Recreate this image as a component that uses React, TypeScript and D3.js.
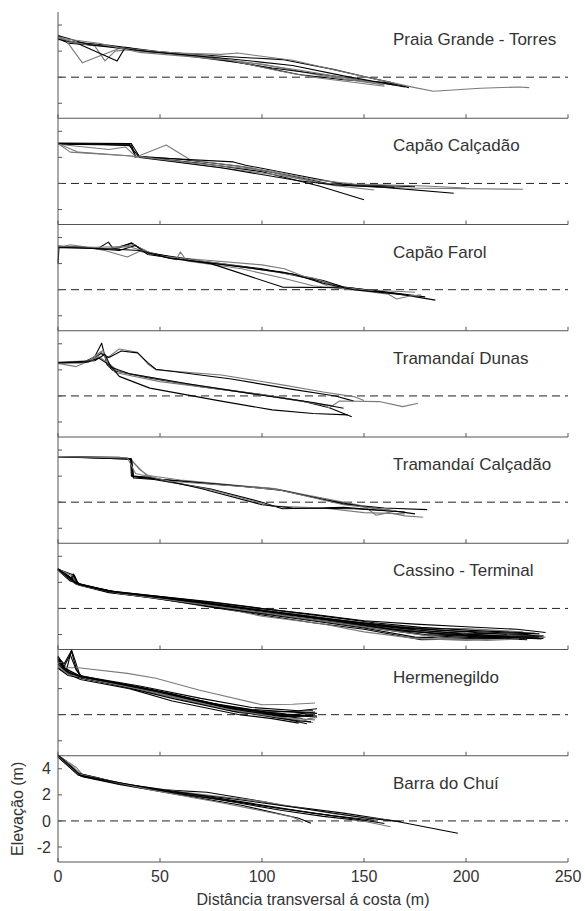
import React from "react";
import * as d3 from "d3";

type Pt = [number, number];

const panelNames = [
  "Praia Grande - Torres",
  "Capão Calçadão",
  "Capão Farol",
  "Tramandaí Dunas",
  "Tramandaí Calçadão",
  "Cassino - Terminal",
  "Hermenegildo",
  "Barra do Chuí",
];

const xTicks = [0, 50, 100, 150, 200, 250];
const yTicks = [-2, 0, 2, 4];
const xLabel = "Distância transversal á costa (m)";
const yLabel = "Elevação (m)";

const praiaGrande: Pt[][] = [
  [[0, 3.0], [3, 2.75], [25, 2.45], [50, 1.95], [80, 1.6], [110, 1.35], [135, 0.6], [150, 0.05], [163, -0.4], [172, -0.8]],
  [[0, 3.1], [5, 2.6], [30, 2.3], [55, 1.8], [90, 1.1], [118, 0.2], [140, -0.2], [160, -0.4], [168, -0.6]],
  [[0, 3.2], [4, 2.8], [12, 1.1], [20, 1.6], [30, 2.2], [45, 1.9], [80, 1.75], [88, 1.85], [115, 1.3], [140, 0.4], [160, -0.3], [175, -0.8], [184, -1.08], [207, -0.85], [226, -0.75], [231, -0.8]],
  [[0, 3.1], [6, 2.7], [18, 2.4], [23, 1.25], [28, 2.0], [35, 2.1], [60, 1.7], [100, 1.0], [130, 0.1], [160, -0.6]],
  [[0, 2.9], [8, 2.7], [29, 1.25], [33, 2.3], [42, 2.05], [70, 1.6], [105, 0.7], [140, 0.0], [165, -0.6]],
  [[0, 3.0], [10, 2.6], [40, 2.1], [75, 1.6], [108, 0.5], [125, 0.0], [160, -0.7]],
  [[0, 3.2], [15, 2.5], [45, 1.95], [85, 1.4], [115, 0.9], [140, 0.1], [170, -0.75]],
  [[0, 3.0], [20, 2.6], [40, 1.9], [85, 1.3], [118, 0.55], [135, 0.1], [160, -0.55]],
];
const praiaGrandeGray = [2, 3, 5, 7];

const capaoCalcadao: Pt[][] = [
  [[0, 3.05], [35, 3.0], [38, 2.1], [60, 1.85], [90, 1.3], [120, 0.4], [135, -0.1], [160, -0.3], [194, -0.75]],
  [[0, 3.1], [36, 3.05], [40, 2.05], [70, 1.55], [100, 0.9], [128, -0.2], [150, -1.25]],
  [[0, 3.05], [6, 2.4], [36, 2.1], [38, 2.0], [53, 2.95], [65, 1.8], [95, 1.2], [130, 0.0], [170, -0.35], [228, -0.45]],
  [[0, 3.0], [30, 2.95], [36, 2.95], [38, 2.05], [86, 1.65], [92, 1.4], [115, 0.7], [140, -0.05], [175, -0.25]],
  [[0, 3.0], [25, 2.6], [33, 2.8], [38, 2.1], [75, 1.3], [110, 0.6], [135, -0.15], [155, -0.5]],
  [[0, 3.05], [20, 3.0], [35, 2.9], [40, 2.0], [80, 1.2], [118, 0.2], [135, -0.1], [165, -0.3]],
  [[0, 3.05], [10, 2.4], [36, 2.1], [70, 1.5], [105, 0.95], [125, 0.3], [145, -0.05], [180, -0.2], [200, -0.35]],
];
const capaoCalcadaoGray = [2, 4, 6];

const capaoFarol: Pt[][] = [
  [[0, 3.3], [10, 3.25], [23, 3.1], [30, 3.2], [36, 3.6], [42, 2.95], [60, 2.35], [85, 1.85], [110, 1.35], [130, 0.7], [140, 0.2], [165, -0.25], [180, -0.55]],
  [[0, 3.2], [6, 3.45], [12, 3.3], [23, 3.0], [34, 2.5], [40, 2.95], [49, 2.6], [70, 2.3], [100, 1.9], [111, 1.6], [132, 0.3], [150, 0.0], [175, -0.2]],
  [[0, 3.35], [20, 3.2], [24.7, 3.65], [27, 3.15], [36, 3.55], [45, 2.8], [70, 2.2], [100, 1.6], [125, 0.8], [140, 0.2], [166, -0.3], [185, -0.8]],
  [[0, 3.2], [25, 3.15], [37, 3.45], [47, 2.7], [58, 2.3], [60, 2.9], [63, 2.2], [90, 1.6], [110, 0.9], [125, 0.3], [150, -0.1], [162, -0.35], [166, -0.72], [172, -0.5], [178, -0.4]],
  [[0, 2.0], [0.5, 3.3], [15, 3.2], [30, 3.0], [38, 3.4], [44, 2.7], [75, 2.0], [110, 0.2], [140, 0.15], [160, -0.2]],
  [[0, 3.3], [18, 3.25], [35, 3.3], [50, 2.6], [80, 2.0], [105, 1.4], [125, 0.9], [138, 0.2], [155, -0.1]],
  [[0, 3.25], [28, 3.1], [40, 3.0], [55, 2.4], [90, 1.75], [115, 1.2], [130, 0.5], [145, 0.0], [170, -0.4]],
];
const capaoFarolGray = [1, 3, 5];

const tramandaiDunas: Pt[][] = [
  [[0, 2.55], [12, 2.55], [18, 3.0], [21.4, 4.05], [24, 2.4], [27, 1.95], [44, 1.4], [70, 0.7], [100, 0.1], [120, -0.4], [133, -0.9], [144, -1.6]],
  [[0, 2.5], [9, 2.25], [14, 2.6], [21, 3.4], [24, 2.9], [30, 3.6], [39, 3.35], [44, 2.45], [48, 2.0], [80, 1.6], [110, 0.85], [130, 0.3], [145, -0.05], [150, -0.35]],
  [[0, 2.55], [15, 2.6], [21, 3.25], [25, 2.95], [31, 3.45], [39, 3.3], [44, 2.55], [48, 2.05], [85, 1.3], [115, 0.5], [136, 0.0], [145, -0.4]],
  [[0, 2.5], [12, 2.55], [20, 3.0], [25, 2.5], [28, 1.8], [50, 1.1], [80, 0.5], [105, 0.0], [130, -0.7], [133, -0.9], [138, -0.39], [158, -0.44], [169, -0.82], [176.5, -0.56]],
  [[0, 2.55], [14, 2.6], [20, 2.9], [26, 2.3], [30, 1.5], [45, 0.6], [80, -0.4], [105, -1.07], [125, -1.35], [142, -1.45]],
  [[0, 2.6], [16, 2.7], [22, 3.5], [24, 2.6], [30, 1.85], [60, 1.0], [95, 0.2], [115, -0.3], [135, -0.75]],
  [[0, 2.55], [18, 2.7], [23, 3.2], [26, 2.2], [35, 1.7], [65, 0.9], [100, 0.05], [125, -0.5], [140, -0.95]],
];
const tramandaiDunasGray = [1, 3, 5];

const tramandaiCalcadao: Pt[][] = [
  [[0, 3.5], [30, 3.45], [35.7, 3.3], [36.5, 1.95], [47, 1.8], [80, 1.35], [106, 1.03], [125, 0.4], [140, -0.15], [160, -0.45], [181, -0.57]],
  [[0, 3.48], [35, 3.35], [43.4, 2.06], [60, 1.7], [90, 1.25], [106, 1.05], [120, 0.6], [150, -0.3], [156, -1.0], [162, -0.8], [170, -1.05], [179, -1.16]],
  [[0, 3.5], [36, 3.3], [37, 1.85], [47, 1.75], [75, 1.0], [100, 0.0], [110, -0.5], [140, -0.4], [165, -0.7]],
  [[0, 3.45], [35.5, 3.35], [40, 2.5], [46, 1.85], [75, 0.95], [105, -0.3], [130, -0.45], [150, -0.8], [170, -0.9]],
  [[0, 3.48], [36, 3.3], [37, 2.0], [50, 1.75], [85, 1.3], [110, 0.9], [130, 0.2], [150, -0.35], [175, -0.9]],
  [[0, 3.5], [35.5, 3.35], [36, 2.0], [46, 1.9], [70, 1.05], [100, -0.2], [115, -0.45], [145, -0.5], [170, -0.75]],
  [[0, 3.5], [34, 3.4], [38, 2.2], [55, 1.6], [90, 1.2], [108, 0.95], [140, -0.2], [165, -0.65]],
];
const tramandaiCalcadaoGray = [1, 3, 6];

const cassino: Pt[][] = [
  [[0, 3.05], [4, 2.5], [6, 2.2], [7.5, 2.65], [9, 1.9], [25, 1.35], [47, 0.97], [75, 0.5], [100, 0.0], [125, -0.45], [150, -0.95], [175, -1.2], [200, -1.4], [225, -1.6], [239, -1.85]],
  [[0, 3.0], [5, 2.3], [9, 1.85], [25, 1.25], [47, 0.85], [75, 0.25], [100, -0.3], [125, -0.75], [150, -1.3], [175, -1.7], [200, -1.9], [230, -2.0], [238, -2.2]],
  [[0, 2.95], [6, 2.1], [8, 2.5], [10, 1.8], [25, 1.2], [47, 0.8], [75, 0.1], [100, -0.5], [125, -1.1], [150, -1.6], [178, -2.4], [200, -2.35], [235, -2.25]],
  [[0, 3.0], [6, 2.2], [10, 1.85], [30, 1.2], [50, 0.75], [80, 0.05], [100, -0.6], [130, -1.2], [150, -1.8], [175, -2.3], [200, -2.45], [220, -2.3]],
  [[0, 3.05], [7, 2.3], [12, 1.75], [30, 1.15], [55, 0.7], [90, -0.1], [120, -0.75], [150, -1.4], [180, -2.0], [210, -2.2], [238, -2.3]],
  [[0, 3.0], [6, 2.2], [9, 1.9], [28, 1.25], [47, 0.9], [80, 0.2], [110, -0.35], [140, -1.0], [165, -1.45], [190, -1.7], [215, -1.85], [236, -1.95]],
  [[0, 3.0], [8, 2.0], [25, 1.3], [50, 0.85], [85, 0.2], [115, -0.4], [150, -1.1], [180, -1.55], [200, -1.55], [228, -1.8]],
  [[0, 3.0], [7, 2.6], [9, 1.95], [26, 1.3], [48, 0.9], [78, 0.3], [105, -0.25], [135, -0.85], [160, -1.3], [185, -1.9], [205, -2.1], [232, -2.1]],
  [[0, 3.05], [5, 2.4], [10, 1.85], [25, 1.3], [45, 0.95], [70, 0.5], [95, -0.05], [120, -0.55], [145, -1.05], [170, -1.45], [195, -1.75], [220, -2.0]],
  [[0, 2.95], [6, 2.15], [11, 1.8], [30, 1.15], [60, 0.5], [90, -0.2], [120, -0.85], [150, -1.5], [175, -2.2], [200, -2.3], [215, -2.2]],
  [[0, 3.0], [7, 2.5], [9, 1.9], [27, 1.25], [47, 0.85], [70, 0.35], [100, -0.35], [130, -0.9], [160, -1.45], [190, -1.9], [225, -2.1], [239, -2.2]],
  [[0, 3.0], [6, 2.25], [10, 1.9], [30, 1.2], [52, 0.75], [82, 0.0], [112, -0.6], [142, -1.2], [170, -1.75], [200, -2.05], [225, -2.25], [237, -2.35]],
  [[0, 3.0], [5, 2.35], [9, 1.9], [26, 1.28], [46, 0.92], [72, 0.42], [98, -0.15], [122, -0.65], [148, -1.2], [172, -1.6], [198, -1.95], [222, -2.15], [236, -2.2]],
  [[0, 3.05], [6, 2.25], [8, 2.55], [10, 1.85], [28, 1.2], [50, 0.8], [78, 0.15], [104, -0.45], [132, -1.05], [158, -1.6], [182, -2.1], [205, -2.25], [230, -2.4]],
  [[0, 2.95], [6, 2.2], [10, 1.8], [30, 1.15], [55, 0.65], [85, 0.0], [115, -0.65], [145, -1.3], [170, -1.85], [190, -2.3], [210, -2.45], [226, -2.35]],
  [[0, 3.0], [7, 2.1], [11, 1.8], [27, 1.3], [48, 0.95], [76, 0.45], [102, -0.05], [128, -0.55], [155, -1.1], [178, -1.45], [205, -1.7], [234, -1.9]],
  [[0, 3.0], [5, 2.5], [9, 1.9], [25, 1.3], [50, 0.85], [80, 0.25], [108, -0.35], [135, -0.95], [162, -1.55], [188, -2.0], [212, -2.15], [238, -2.1]],
];
const cassinoGray = [3, 6, 10, 14];

const hermenegildo: Pt[][] = [
  [[0, 4.4], [3, 3.9], [6.7, 4.95], [10.8, 3.0], [25, 2.55], [56, 1.55], [89, 0.3], [110, -0.2], [118, -0.5], [124, -0.3]],
  [[0, 4.2], [4, 3.3], [6.5, 4.9], [9, 3.5], [11, 2.9], [30, 2.4], [56, 1.6], [89, 0.35], [120, -0.3]],
  [[0, 4.0], [5, 3.6], [10, 3.6], [34, 3.17], [48, 2.79], [69, 1.9], [100, 0.76], [115, 0.8], [126, 0.9]],
  [[0, 4.45], [4, 3.3], [10.8, 2.9], [30, 2.35], [56, 1.45], [89, 0.25], [110, -0.15], [125, -0.1]],
  [[0, 3.6], [4, 3.2], [11, 2.7], [35, 2.0], [56, 1.05], [89, 0.0], [105, -0.3], [118, -0.65]],
  [[0, 4.3], [3, 3.5], [12, 2.85], [40, 2.1], [70, 1.0], [95, 0.4], [115, 0.2], [127, 0.1]],
  [[0, 3.8], [5, 3.2], [12, 2.8], [40, 1.9], [75, 0.7], [100, 0.0], [115, -0.4], [125, -0.6]],
  [[0, 4.1], [4, 3.4], [11, 2.85], [45, 1.85], [80, 0.6], [105, 0.1], [127, -0.2]],
  [[0, 3.55], [5, 3.0], [15, 2.7], [50, 1.6], [85, 0.3], [110, -0.3], [124, -0.55]],
  [[0, 4.4], [2, 3.6], [10, 3.0], [40, 2.2], [70, 1.25], [95, 0.55], [118, 0.3], [127, 0.45]],
  [[0, 4.0], [4, 3.4], [12, 2.9], [55, 1.4], [90, 0.2], [120, -0.45], [127, -0.2]],
  [[0, 4.2], [6, 3.1], [20, 2.6], [56, 1.25], [89, 0.15], [115, -0.1], [126, 0.0]],
  [[0, 4.3], [3, 3.6], [11, 2.95], [28, 2.45], [56, 1.5], [89, 0.3], [112, -0.05], [126, 0.2]],
  [[0, 3.9], [4, 3.3], [12, 2.8], [38, 2.05], [65, 1.2], [92, 0.2], [112, -0.35], [122, -0.7]],
  [[0, 4.5], [3, 3.7], [6, 4.6], [9, 3.4], [12, 2.9], [45, 1.95], [78, 0.75], [102, 0.2], [125, 0.3]],
  [[0, 3.7], [5, 3.1], [14, 2.75], [48, 1.7], [82, 0.45], [108, -0.2], [126, -0.4]],
  [[0, 4.1], [4, 3.35], [11, 2.9], [35, 2.25], [62, 1.35], [90, 0.4], [112, 0.05], [127, -0.1]],
];
const hermenegildoGray = [2, 6, 10, 15];

const barraChui: Pt[][] = [
  [[0, 5.05], [4, 4.6], [10, 3.6], [20, 3.2], [30, 2.85], [50, 2.4], [73, 2.2], [96, 1.6], [110, 1.2], [140, 0.6], [165, 0.0], [196, -0.95]],
  [[0, 5.0], [5, 4.3], [11, 3.45], [25, 3.0], [50, 2.3], [80, 1.6], [110, 0.8], [130, 0.35], [150, 0.0]],
  [[0, 4.95], [6, 4.4], [9, 4.1], [12, 3.55], [20, 3.3], [23, 3.15], [28, 2.9], [55, 2.25], [85, 1.55], [110, 0.9], [140, 0.3], [163, -0.44]],
  [[0, 5.0], [8, 4.0], [12, 3.4], [30, 2.8], [60, 2.0], [90, 1.2], [118, 0.2], [124, -0.18]],
  [[0, 5.05], [7, 4.2], [11, 3.6], [35, 2.75], [70, 2.05], [100, 1.5], [135, 0.55], [168.5, -0.05]],
  [[0, 4.9], [10, 3.5], [40, 2.55], [75, 1.75], [105, 1.05], [135, 0.4], [155, 0.05]],
  [[0, 5.0], [9, 3.7], [30, 2.9], [60, 2.2], [95, 1.35], [125, 0.6], [150, 0.05], [160, -0.2]],
  [[0, 5.0], [10, 3.6], [45, 2.4], [80, 1.4], [115, 0.3], [120, -0.1]],
  [[0, 5.05], [11, 3.5], [50, 2.35], [90, 1.6], [120, 0.95], [150, 0.25], [168, -0.05]],
];
const barraChuiGray = [2, 4, 7];

const panelProfiles = [praiaGrande, capaoCalcadao, capaoFarol, tramandaiDunas, tramandaiCalcadao, cassino, hermenegildo, barraChui];
const panelGray = [praiaGrandeGray, capaoCalcadaoGray, capaoFarolGray, tramandaiDunasGray, tramandaiCalcadaoGray, cassinoGray, hermenegildoGray, barraChuiGray];

const FONT = "'Liberation Sans', Arial, Helvetica, sans-serif";

export default function App() {
  const W = 585;
  const H = 911;
  const left = 58;
  const right = 568;
  const top0 = 12;
  const ph = 106.25;
  const n = panelNames.length;
  const bottom = top0 + n * ph;
  const x = d3.scaleLinear().domain([0, 250]).range([left, right]);
  const axisColor = "#555";
  const textColor = "#333";

  return (
    <svg width={W} height={H} style={{ position: "absolute", left: 0, top: 0, display: "block", background: "#fff" }}>
      <rect x={0} y={0} width={W} height={H} fill="#fff" />
      {panelNames.map((name, i) => {
        const pTop = top0 + i * ph;
        const pBot = pTop + ph;
        const y = d3.scaleLinear().domain([-3.15, 5]).range([pBot, pTop]);
        const line = d3
          .line<Pt>()
          .x((d) => x(d[0]))
          .y((d) => y(d[1]));
        const grays = panelGray[i];
        return (
          <g key={name}>
            <line x1={x(0)} x2={x(250)} y1={y(0)} y2={y(0)} stroke="#222" strokeWidth={1} strokeDasharray="8,5" />
            {panelProfiles[i].map((p, j) => (
              <path
                key={j}
                d={line(p) || ""}
                fill="none"
                stroke={grays.includes(j) ? "#7a7a7a" : "#000"}
                strokeWidth={1.1}
                strokeLinejoin="round"
              />
            ))}
            <line x1={left} x2={right} y1={pBot} y2={pBot} stroke={axisColor} strokeWidth={1} />
            {xTicks.map((t) => (
              <line key={"xt" + t} x1={x(t)} x2={x(t)} y1={pBot} y2={pBot - 4} stroke={axisColor} strokeWidth={1} />
            ))}
            {yTicks.map((t) => (
              <line key={"yt" + t} x1={left} x2={left + 4} y1={y(t)} y2={y(t)} stroke={axisColor} strokeWidth={1} />
            ))}
            <text x={393} y={pTop + 33} fontFamily={FONT} fontSize={17} fill={textColor}>
              {name}
            </text>
            {i === n - 1 &&
              yTicks.map((t) => (
                <text
                  key={"yl" + t}
                  x={51}
                  y={y(t)}
                  dy="0.35em"
                  textAnchor="end"
                  fontFamily={FONT}
                  fontSize={16}
                  fill={textColor}
                >
                  {t}
                </text>
              ))}
          </g>
        );
      })}
      <line x1={left} x2={left} y1={top0} y2={bottom} stroke={axisColor} strokeWidth={1} />
      {xTicks.map((t) => (
        <text key={"xl" + t} x={x(t)} y={bottom + 20} textAnchor="middle" fontFamily={FONT} fontSize={16} fill={textColor}>
          {t}
        </text>
      ))}
      <text x={(left + right) / 2} y={bottom + 43} textAnchor="middle" fontFamily={FONT} fontSize={16} fill={textColor}>
        {xLabel}
      </text>
      <text
        transform={`translate(23, ${top0 + (n - 0.5) * ph}) rotate(-90)`}
        textAnchor="middle"
        fontFamily={FONT}
        fontSize={16}
        fill={textColor}
      >
        {yLabel}
      </text>
    </svg>
  );
}
